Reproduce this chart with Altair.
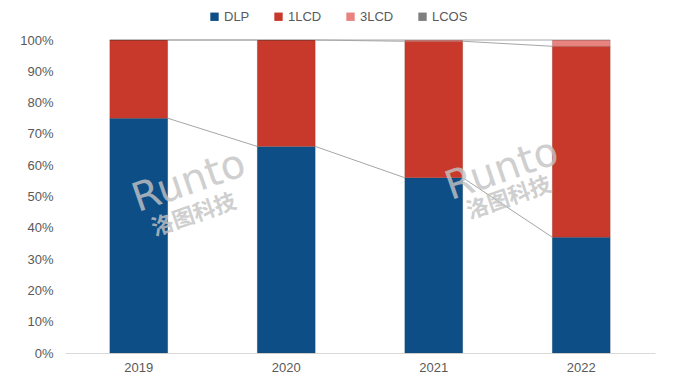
import altair as alt
import pandas as pd

years = ["2019", "2020", "2021", "2022"]
series = ["DLP", "1LCD", "3LCD", "LCOS"]
dlp = [75.0, 66.0, 56.0, 37.0]
lcd1 = [25.0, 34.0, 43.6, 61.0]
lcd3 = [0.0, 0.0, 0.4, 2.0]
lcos = [0.0, 0.0, 0.0, 0.0]
colors = ["#0d4e86", "#c9392b", "#e8837f", "#7f7f7f"]
ticks = [0.0, 0.1, 0.2, 0.3, 0.4, 0.5, 0.6, 0.7, 0.8, 0.9, 1.0]

vals = {"DLP": dlp, "1LCD": lcd1, "3LCD": lcd3, "LCOS": lcos}
rows = []
for i, y in enumerate(years):
    for k, s in enumerate(series):
        rows.append({"year": y, "series": s, "value": vals[s][i] / 100.0, "order": k})
df = pd.DataFrame(rows)

# connector lines between cumulative tops
lines = []
for i in range(len(years) - 1):
    c0 = 0.0
    c1 = 0.0
    for s in series[:3]:
        c0 += vals[s][i]
        c1 += vals[s][i + 1]
        lines.append({"year": years[i], "next": years[i + 1], "y0": c0 / 100.0, "y1": c1 / 100.0})
ldf = pd.DataFrame(lines)

FONT = "Liberation Sans"
HALF = 29

xscale = alt.Scale(domain=years, paddingInner=0.6, paddingOuter=0.3)
yscale = alt.Scale(domain=[0, 1], nice=False)
xaxis = alt.Axis(title=None, labelAngle=0, ticks=False, domainColor="#d9d9d9",
                 labelFont=FONT, labelFontSize=13, labelColor="#595959", labelPadding=8)
yaxis = alt.Axis(title=None, values=ticks, format=".0%",
                 grid=False, domain=False, ticks=False, labelPadding=12, labelOverlap=False,
                 labelFont=FONT, labelFontSize=13, labelColor="#595959")

bars = alt.Chart(df).mark_bar(size=2 * HALF, stroke="#333333", strokeWidth=0.3, strokeOpacity=0.5).encode(
    x=alt.X("year:N", scale=xscale, sort=years, axis=xaxis),
    y=alt.Y("value:Q", stack="zero", scale=yscale, axis=yaxis),
    color=alt.Color("series:N", sort=series, scale=alt.Scale(domain=series, range=colors),
                    legend=alt.Legend(title=None, orient="none", direction="horizontal", columns=4,
                                      legendX=143, legendY=-30, symbolType="square", symbolSize=70,
                                      symbolStrokeWidth=0, labelFont=FONT, labelFontSize=13,
                                      labelColor="#595959", columnPadding=22, labelOffset=3)),
    order=alt.Order("order:Q", sort="ascending"),
)

rules = alt.Chart(ldf).mark_rule(color="#a6a6a6", strokeWidth=1, xOffset=HALF, x2Offset=-HALF).encode(
    x=alt.X("year:N", scale=xscale, sort=years, axis=xaxis),
    x2="next:N",
    y=alt.Y("y0:Q", scale=yscale, axis=yaxis),
    y2="y1:Q",
)

wm_word = "Runto"
wm_cn = "洛图科技"
wmdf = pd.DataFrame({"w": [wm_word], "c": [wm_cn]})


def watermark(px, py, cx, cy):
    a = alt.Chart(wmdf).mark_text(font="DejaVu Sans", fontSize=40, angle=341, color="#c4c4c4",
                                  opacity=0.8, baseline="middle").encode(
        text="w:N", x=alt.value(px), y=alt.value(py)
    )
    b = alt.Chart(wmdf).mark_text(font="Noto Sans CJK SC", fontSize=22, angle=341, color="#c4c4c4",
                                  opacity=0.8, fontWeight="bold", baseline="middle").encode(
        text="c:N", x=alt.value(cx), y=alt.value(cy)
    )
    return [a, b]


wms = watermark(124, 142, 129, 175) + watermark(437, 130, 444, 158)

chart = alt.layer(bars, rules, *wms).properties(
    width=590, height=313,
    autosize=alt.AutoSizeParams(type="none"),
    padding={"left": 57, "top": 32, "right": 37, "bottom": 21},
).configure_view(stroke=None).configure_axisY(labelOverlap=False, labelSeparation=0)

chart.save("out.html", embed_options={"renderer": "svg", "actions": False})
